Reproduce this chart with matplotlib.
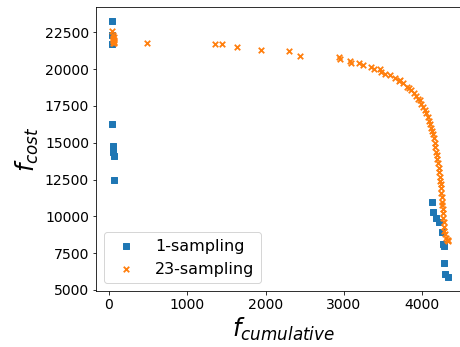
import matplotlib.pyplot as plt

# 1-sampling points
one_x = [42, 35, 42, 42, 45, 45, 65, 65,
         4129, 4142, 4176, 4215, 4249, 4262, 4275, 4278, 4291, 4333]
one_y = [23300, 22300, 21700, 16300, 14800, 14350, 14100, 12500,
         11000, 10300, 9900, 9650, 8950, 8150, 8000, 6850, 6100, 5850]

# 23-sampling points
many_x = [40, 45, 50, 55, 60, 65, 50, 60, 70, 45,
          490, 1350, 1440, 1640, 1940, 2300, 2440, 2940, 2950, 3080,
          3090, 3190, 3250, 3350, 3380, 3460, 3480, 3530, 3590, 3650,
          3700, 3720, 3760, 3800, 3830, 3860, 3890, 3920, 3950, 3970,
          3990, 4010, 4030, 4050, 4070, 4090, 4100, 4115, 4130, 4140,
          4150, 4160, 4170, 4180, 4185, 4195, 4205, 4210, 4220, 4225,
          4230, 4235, 4240, 4245, 4250, 4255, 4258, 4262, 4268, 4272,
          4276, 4280, 4285, 4290, 4300, 4315, 4335, 4325]
many_y = [22600, 22300, 22100, 21950, 21850, 22000, 21750, 22200, 21800, 21900,
          21750, 21700, 21700, 21500, 21300, 21200, 20900, 20850, 20700, 20550,
          20400, 20400, 20250, 20150, 20000, 19980, 19800, 19700, 19600, 19400,
          19200, 19250, 19050, 18800, 18700, 18550, 18400, 18200, 18000, 17900,
          17650, 17450, 17250, 17000, 16750, 16450, 16300, 16000, 15800, 15600,
          15350, 15000, 14700, 14400, 14200, 13900, 13600, 13300, 13000, 12700,
          12400, 12200, 11900, 11600, 11300, 11000, 10800, 10500, 10200, 9900,
          9600, 9300, 9000, 8800, 8500, 8400, 8400, 8350]

fig = plt.figure(figsize=(460 / 72, 347 / 72), dpi=72)
# the axes runs past the right edge, as in the reference
ax = fig.add_axes([0.2087, 0.1614, 0.8146, 0.8184])

ax.scatter(one_x, one_y, marker="s", label="1-sampling")
ax.scatter(many_x, many_y, marker="x", s=30, linewidths=1.8, label="23-sampling")

ax.set_xlim(-166, 4620)
ax.set_ylim(4930, 24220)
ax.tick_params(labelsize=14)
ax.set_xlabel("$f_{cumulative}$", fontsize=24)
ax.set_ylabel("$f_{cost}$", fontsize=24)
ax.legend(loc="lower left", fontsize=16)

fig.savefig("out.png", dpi=72)
